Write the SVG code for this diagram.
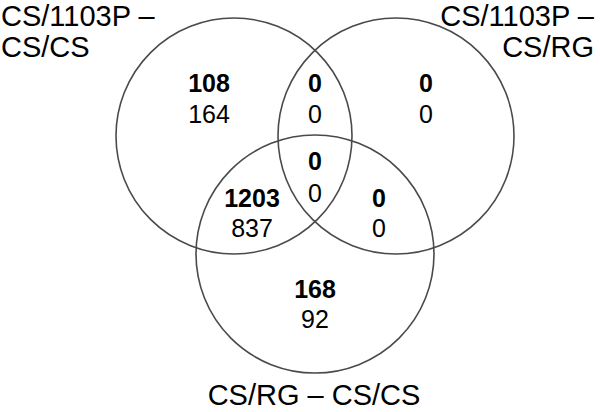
<svg xmlns="http://www.w3.org/2000/svg" width="600" height="412" viewBox="0 0 600 412">
<style>
.c{fill:none;stroke:#4a4a4a;stroke-width:1.6}
text{font-family:"Liberation Sans",Arial,sans-serif;fill:#000}
.lab{font-size:29px}
.n{font-size:25px;text-anchor:middle}
.b{font-weight:bold}
</style>
<rect width="600" height="412" fill="#fff"/>
<g id="set-a">
<circle class="c" cx="234" cy="136" r="118"/>
<text class="lab" x="1" y="26">CS/1103P –</text>
<text class="lab" x="1" y="57">CS/CS</text>
</g>
<g id="set-b">
<circle class="c" cx="396" cy="136" r="118"/>
<text class="lab" x="594" y="26" text-anchor="end">CS/1103P –</text>
<text class="lab" x="594" y="57" text-anchor="end">CS/RG</text>
</g>
<g id="set-c">
<circle class="c" cx="315" cy="254" r="119"/>
<text class="lab" x="314" y="405" text-anchor="middle">CS/RG – CS/CS</text>
</g>
<g id="region-a">
<text class="n b" x="209" y="92">108</text>
<text class="n" x="209" y="123">164</text>
</g>
<g id="region-ab">
<text class="n b" x="315" y="92">0</text>
<text class="n" x="315" y="123">0</text>
</g>
<g id="region-b">
<text class="n b" x="426" y="92">0</text>
<text class="n" x="426" y="123">0</text>
</g>
<g id="region-abc">
<text class="n b" x="315" y="170">0</text>
<text class="n" x="315" y="202">0</text>
</g>
<g id="region-ac">
<text class="n b" x="252" y="207">1203</text>
<text class="n" x="252" y="237">837</text>
</g>
<g id="region-bc">
<text class="n b" x="379" y="207">0</text>
<text class="n" x="379" y="237">0</text>
</g>
<g id="region-c">
<text class="n b" x="315" y="298">168</text>
<text class="n" x="315" y="328">92</text>
</g>
<g id="connectors"></g>
</svg>
